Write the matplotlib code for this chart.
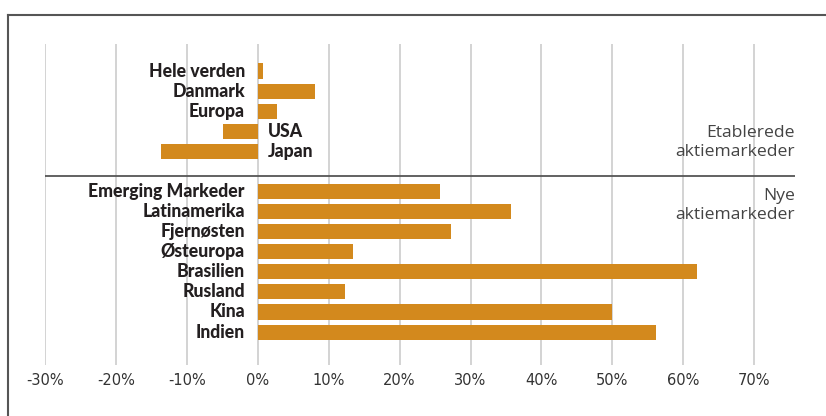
import matplotlib
matplotlib.use("Agg")
import matplotlib.pyplot as plt
from matplotlib.lines import Line2D
import matplotlib.transforms as mtransforms

categories = ["Hele verden", "Danmark", "Europa", "USA", "Japan", None,
              "Emerging Markeder", "Latinamerika", "Fjernøsten", "Østeuropa",
              "Brasilien", "Rusland", "Kina", "Indien"]
values = [0.7, 8.0, 2.7, -4.9, -13.7, None,
          25.7, 35.7, 27.2, 13.4, 61.9, 12.3, 49.9, 56.1]
xticks = [-30, -20, -10, 0, 10, 20, 30, 40, 50, 60, 70]
xticklabels = ["-30%", "-20%", "-10%", "0%", "10%", "20%", "30%", "40%", "50%", "60%", "70%"]
group_labels = ["Etablerede\naktiemarkeder", "Nye\naktiemarkeder"]

bar_color = "#D3891D"
text_color = "#231F20"

fig = plt.figure(figsize=(8.26, 4.16), dpi=100)
ax = fig.add_axes([45/826, (416-365)/416, 750/826, 321/416])

for i, (c, v) in enumerate(zip(categories, values)):
    if c is None:
        continue
    ax.barh(i, v, height=0.75, color=bar_color, zorder=3)
    if v >= 0:
        off = mtransforms.offset_copy(ax.transData, fig=fig, x=-13, y=0, units="dots")
        ax.text(0, i, c, transform=off, ha="right", va="center", fontsize=12.7,
                fontweight="black", family=["Lato", "DejaVu Sans"], color=text_color, zorder=4)
    else:
        off = mtransforms.offset_copy(ax.transData, fig=fig, x=10, y=0, units="dots")
        ax.text(0, i, c, transform=off, ha="left", va="center", fontsize=12.7,
                fontweight="black", family=["Lato", "DejaVu Sans"], color=text_color, zorder=4)

ax.set_xlim(-30, 75.75)
ax.set_ylim(14.64, -1.345)
ax.set_xticks(xticks)
ax.set_xticklabels(xticklabels, family=["Liberation Sans Narrow", "DejaVu Sans"],
                   fontsize=10.5, color="#333333")
ax.set_yticks([])
ax.tick_params(axis="x", length=0, pad=6)
for s in ax.spines.values():
    s.set_visible(False)
ax.grid(axis="x", color="#d0d0d0", linewidth=1.3, zorder=0)

ax.axhline(5.25, color="#555555", linewidth=1.3, zorder=5)

ax.text(75.75, 3.54, group_labels[0], ha="right", va="center", fontsize=12.6,
        family=["Open Sans", "DejaVu Sans"], color="#444444", linespacing=1.25)
ax.text(75.75, 6.7, group_labels[1], ha="right", va="center", fontsize=12.6,
        family=["Open Sans", "DejaVu Sans"], color="#444444", linespacing=1.25)

# outer frame (left and top edges visible)
fig.add_artist(Line2D([8/826, 8/826], [0, 1 - 14.5/416], transform=fig.transFigure,
                      color="#555555", linewidth=1.5))
fig.add_artist(Line2D([8/826, 1], [1 - 14.5/416, 1 - 14.5/416], transform=fig.transFigure,
                      color="#555555", linewidth=1.5))

fig.savefig("out.png", dpi=100)
